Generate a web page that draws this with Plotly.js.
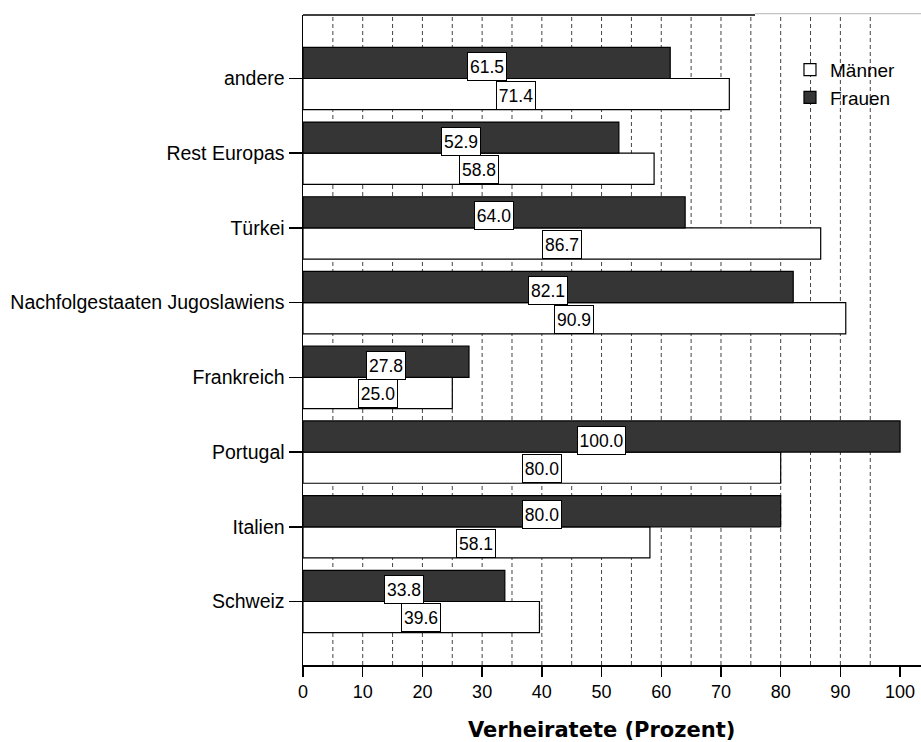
<!DOCTYPE html>
<html>
<head>
<meta charset="utf-8">
<script src="https://cdn.plot.ly/plotly-3.0.1.min.js"></script>
<style>html,body{margin:0;padding:0;background:#fff;}#chart{width:921px;height:742px;}</style>
</head>
<body>
<div id="chart"></div>
<script>
// Categories listed bottom to top as drawn
var categories = ["Schweiz", "Italien", "Portugal", "Frankreich", "Nachfolgestaaten Jugoslawiens", "Türkei", "Rest Europas", "andere"];
var maenner = [39.6, 58.1, 80.0, 25.0, 90.9, 86.7, 58.8, 71.4];
var frauen  = [33.8, 80.0, 100.0, 27.8, 82.1, 64.0, 52.9, 61.5];
var xTicks = [0, 10, 20, 30, 40, 50, 60, 70, 80, 90, 100];
var xTitle = "Verheiratete (Prozent)";

var FONT = "Liberation Sans, Arial, sans-serif";

var traces = [
  {type: "bar", orientation: "h", name: "Männer", y: categories, x: maenner,
   marker: {color: "#ffffff", line: {color: "#000000", width: 1.2}}, hoverinfo: "x+y"},
  {type: "bar", orientation: "h", name: "Frauen", y: categories, x: frauen,
   marker: {color: "#353535", line: {color: "#000000", width: 1.2}}, hoverinfo: "x+y"}
];

var shapes = [];
for (var g = 5; g <= 95; g += 5) {
  shapes.push({type: "line", layer: "below", xref: "x", yref: "paper", x0: g, x1: g, y0: 0, y1: 1,
               line: {color: "#444444", width: 1, dash: "4px,3px"}});
}
// top frame line (black part) and faint grey continuation
shapes.push({type: "line", xref: "x", yref: "paper", x0: 0, x1: 75.7, y0: 1, y1: 1, line: {color: "#000", width: 1.5}});
shapes.push({type: "line", xref: "x", yref: "paper", x0: 75.7, x1: 103.5, y0: 1.002, y1: 1.002, line: {color: "#c4c4c4", width: 1.2}});

function boxW(t) { return t.length >= 5 ? 45 : 36; }

var annotations = [];
categories.forEach(function (c, i) {
  var tf = frauen[i].toFixed(1), tm = maenner[i].toFixed(1);
  annotations.push({xref: "x", yref: "y", x: frauen[i] / 2, y: c, yshift: 12,
    text: tf, width: boxW(tf), height: 25, showarrow: false, bgcolor: "#fff", bordercolor: "#000", borderwidth: 1, borderpad: 1,
    font: {family: FONT, size: 17.5, color: "#000"}});
  annotations.push({xref: "x", yref: "y", x: maenner[i] / 2, y: c, yshift: -16.5,
    text: tm, width: boxW(tm), height: 25, showarrow: false, bgcolor: "#fff", bordercolor: "#000", borderwidth: 1, borderpad: 1,
    font: {family: FONT, size: 17.5, color: "#000"}});
});
annotations.push({xref: "x", yref: "paper", x: 50, y: -0.1, yanchor: "middle", showarrow: false,
  text: "<b>" + xTitle + "</b>", font: {family: "DejaVu Sans, sans-serif", size: 21, color: "#000"}});

var layout = {
  width: 921, height: 742,
  margin: {l: 303, r: 0, t: 15, b: 77, pad: 0},
  paper_bgcolor: "#fff", plot_bgcolor: "#fff",
  barmode: "group", bargap: 0.165, bargroupgap: 0,
  showlegend: true,
  legend: {x: 0.788, y: 0.945, xanchor: "left", yanchor: "top", bgcolor: "rgba(0,0,0,0)",
           font: {family: FONT, size: 19, color: "#000"}, traceorder: "normal", itemwidth: 30},
  xaxis: {range: [0, 103.5], tickvals: xTicks, ticktext: xTicks.map(String), showgrid: false, zeroline: false,
          showline: true, linecolor: "#000", linewidth: 1.5, ticks: "outside", ticklen: 10, tickwidth: 1.5, tickcolor: "#000",
          tickfont: {family: FONT, size: 18, color: "#000"}},
  yaxis: {type: "category", range: [-0.85, 7.85], showgrid: false, zeroline: false,
          showline: true, linecolor: "#000", linewidth: 1.5, ticks: "outside", ticklen: 13, tickwidth: 1.5, tickcolor: "#000",
          tickfont: {family: FONT, size: 19.5, color: "#000"}},
  shapes: shapes,
  annotations: annotations
};

Plotly.newPlot("chart", traces, layout, {staticPlot: true, displayModeBar: false});
</script>
</body>
</html>
